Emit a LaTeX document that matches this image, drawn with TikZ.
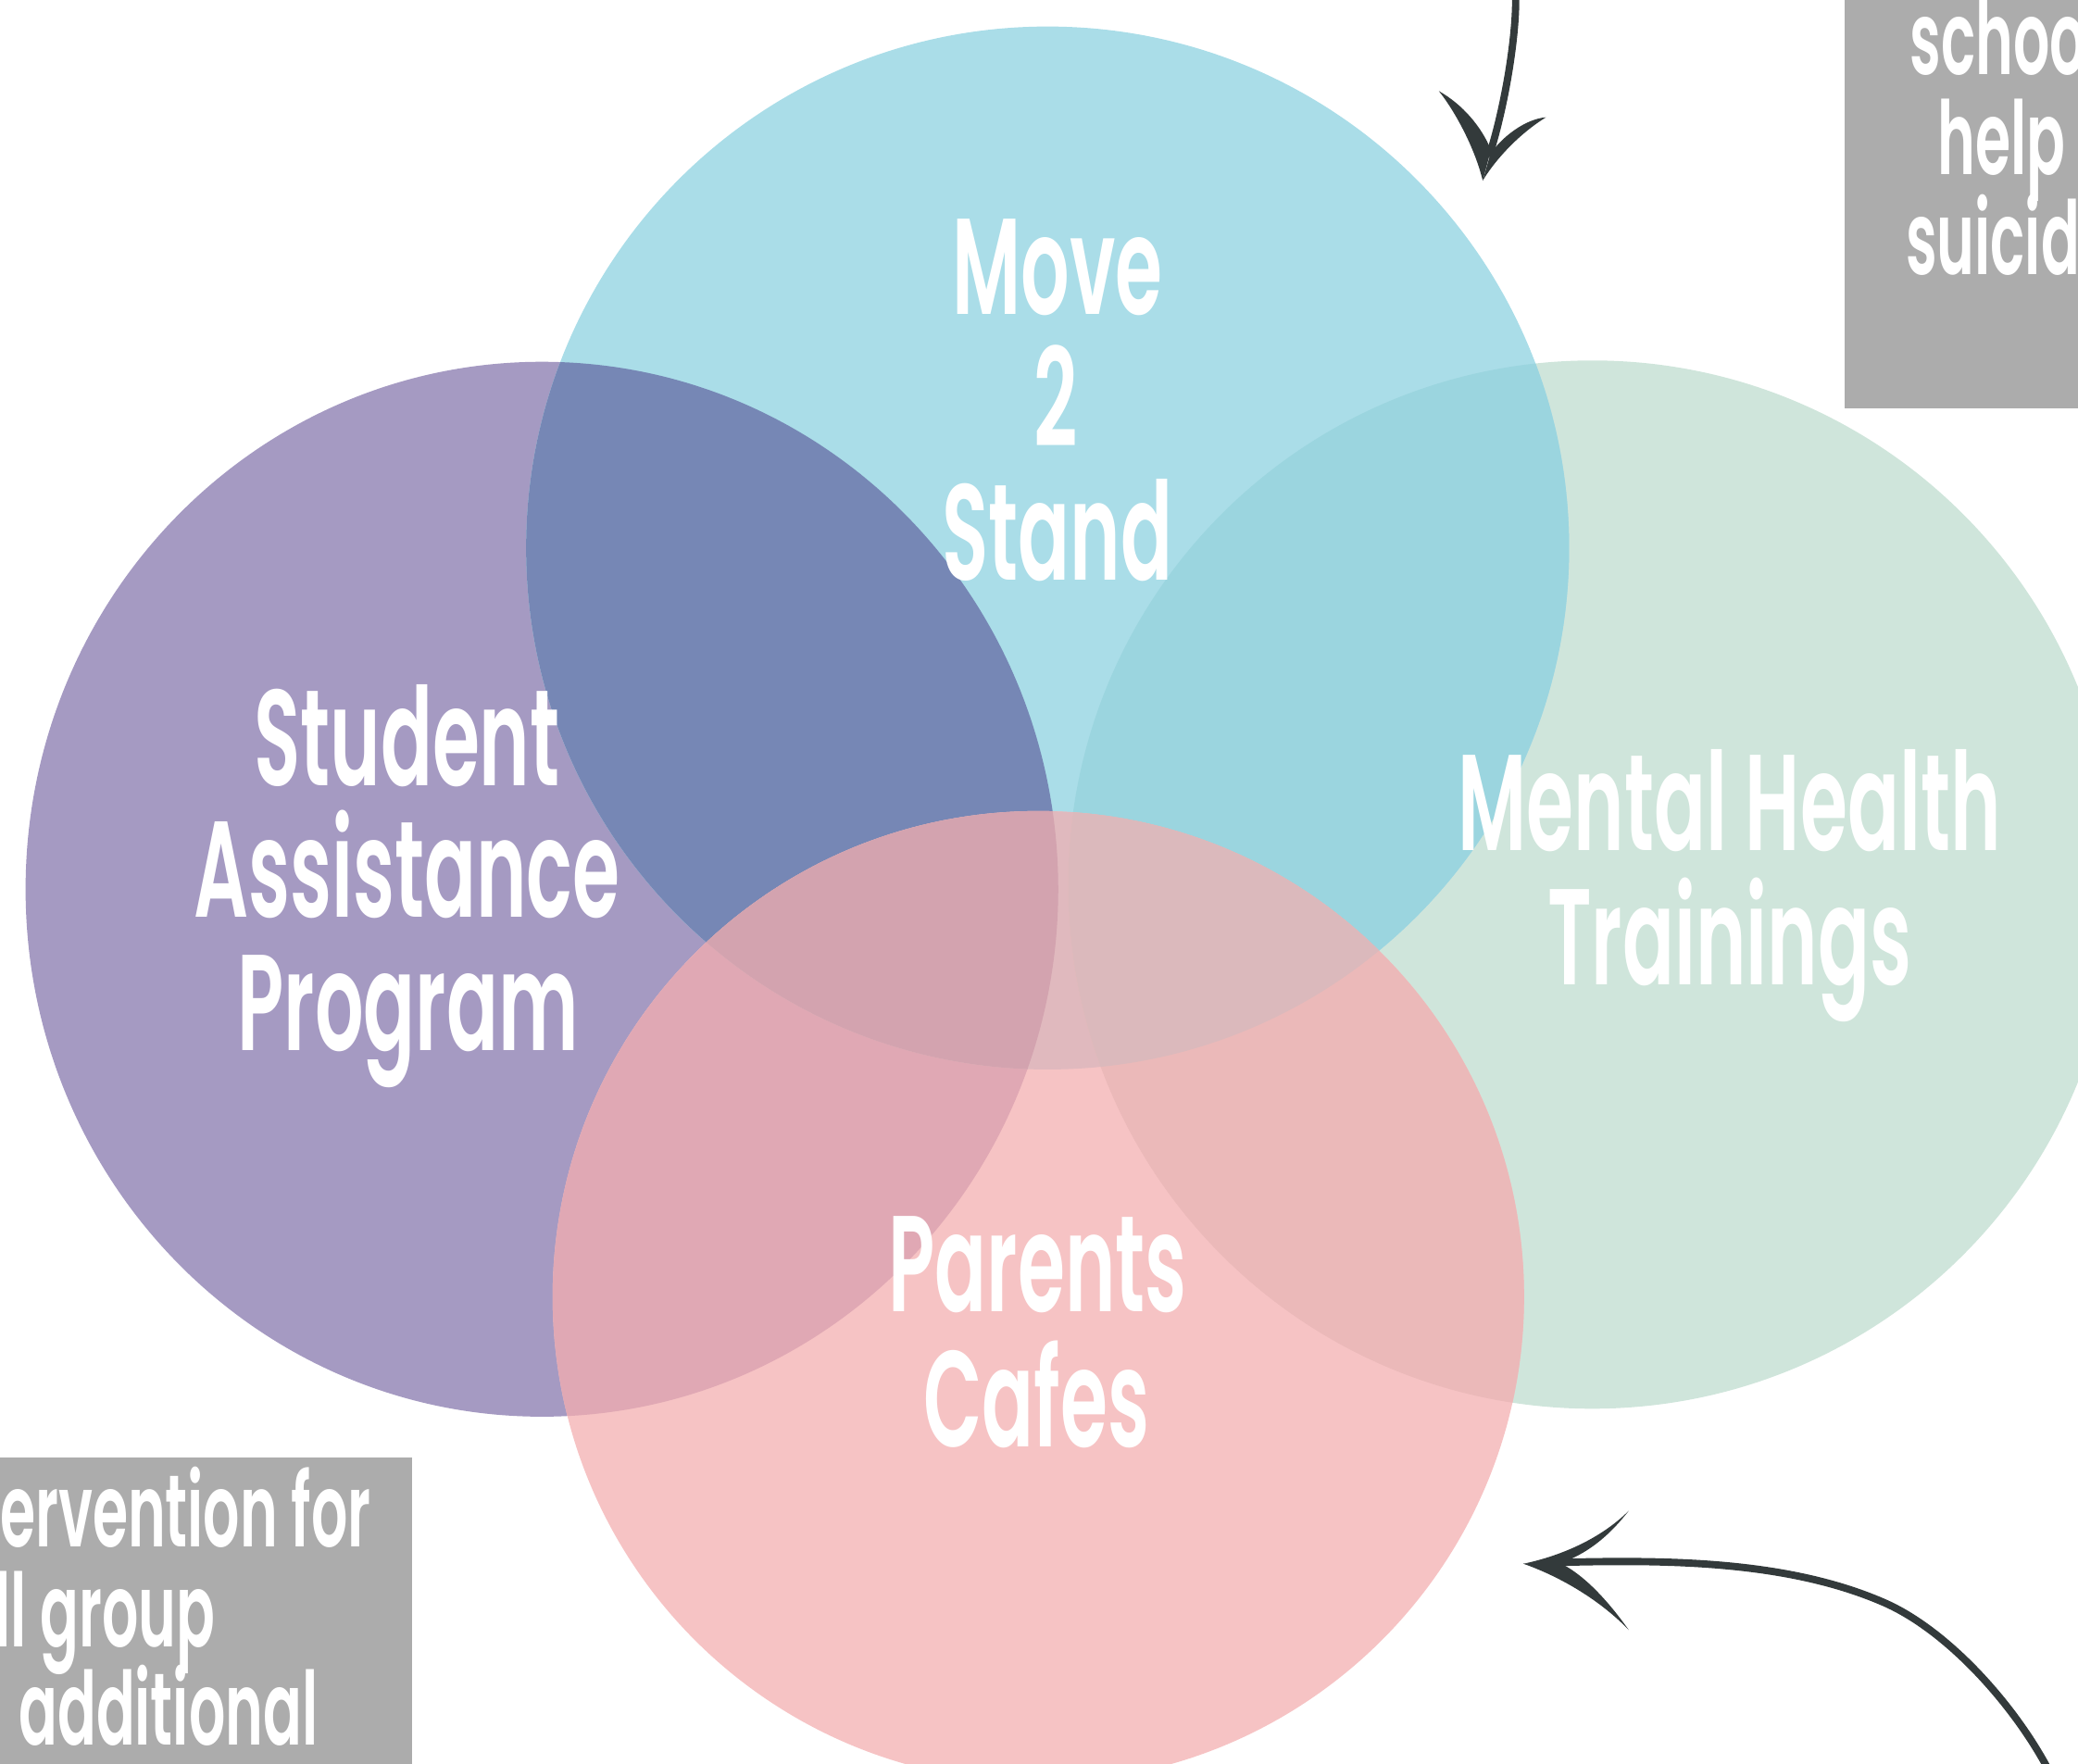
\documentclass[tikz,border=0pt]{standalone}
\usepackage{fontspec}
\newfontfamily\labfont{Poppins SemiBold}[FakeStretch=0.56]
\definecolor{cP}{HTML}{A59AC2}
\definecolor{cB}{HTML}{AADDE8}
\definecolor{cG}{HTML}{CFE5DB}
\definecolor{cK}{HTML}{F6C3C4}
\definecolor{cPB}{HTML}{7687B5}
\definecolor{cBG}{HTML}{9BD5DF}
\definecolor{cPK}{HTML}{E0A8B4}
\definecolor{cBK}{HTML}{E0B9BE}
\definecolor{cGK}{HTML}{EBB9B9}
\definecolor{cPBK}{HTML}{D3A3AF}
\definecolor{cBGK}{HTML}{DBB9BC}
\definecolor{boxgray}{HTML}{ACACAC}
\definecolor{ink}{HTML}{333A3B}
\newcommand\purpleshape{(P) ellipse [x radius=389.6, y radius=398]}
\newcommand\radB{393.5}
\newcommand\radG{395.5}
\newcommand\radK{366.5}
\tikzset{
  lbl/.style={text=white, inner sep=0pt, anchor=base, font=\labfont\fontsize{103}{103}\selectfont},
  boxlbl/.style={text=white, inner sep=0pt, font=\labfont\fontsize{77}{77}\selectfont},
  graybox/.style={fill=boxgray, draw=none},
  ink fill/.style={fill=ink, draw=none},
  shaft/.style={draw=ink, line width=5.5pt, line cap=round}
}
\begin{document}
\begin{tikzpicture}[x=1pt,y=-1pt]
\useasboundingbox (0,0) rectangle (1568,1331);
\clip (0,0) rectangle (1568,1331);
% centres
\coordinate (P) at (408.9,671);
\coordinate (B) at (790.5,413.5);
\coordinate (G) at (1201.5,667.5);
\coordinate (K) at (783.5,978.5);
% base shapes
\fill[cP] \purpleshape;
\fill[cG] (G) circle[radius=\radG];
\fill[cB] (B) circle[radius=\radB];
\fill[cK] (K) circle[radius=\radK];
% pair overlaps
\begin{scope}\clip \purpleshape; \fill[cPB] (B) circle[radius=\radB];\end{scope}
\begin{scope}\clip (G) circle[radius=\radG]; \fill[cBG] (B) circle[radius=\radB];\end{scope}
\begin{scope}\clip \purpleshape; \fill[cPK] (K) circle[radius=\radK];\end{scope}
\begin{scope}\clip (B) circle[radius=\radB]; \fill[cBK] (K) circle[radius=\radK];\end{scope}
\begin{scope}\clip (G) circle[radius=\radG]; \fill[cGK] (K) circle[radius=\radK];\end{scope}
% triple overlaps
\begin{scope}\clip \purpleshape; \clip (B) circle[radius=\radB]; \fill[cPBK] (K) circle[radius=\radK];\end{scope}
\begin{scope}\clip (G) circle[radius=\radG]; \clip (B) circle[radius=\radB]; \fill[cBGK] (K) circle[radius=\radK];\end{scope}
% labels
\node[lbl] (move) at (798,237) {Move};
\node[lbl] (two) at (797,337) {2};
\node[lbl] (stand) at (798,438) {Stand};
\node[lbl] (student) at (307,593) {Student};
\node[lbl] (assist) at (307,692) {Assistance};
\node[lbl] (program) at (308,793) {Program};
\node[lbl] (mental) at (1305,642) {Mental Health};
\node[lbl] (train) at (1305,743) {Trainings};
\node[lbl] (parents) at (783,990) {Parents};
\node[lbl] (cafes) at (782,1092) {Cafes};
% grey boxes
\fill[graybox] (1392,-5) rectangle (1575,308);
\begin{scope}
\clip (1392,-5) rectangle (1568,308);
\node[boxlbl, anchor=base west] (tr1) at (1441,56) {schoo};
\node[boxlbl, anchor=base west] (tr2) at (1462,131.6) {help};
\node[boxlbl, anchor=base west] (tr3) at (1438,207.3) {suicid};
\end{scope}
\fill[graybox] (-5,1100) rectangle (311,1340);
\begin{scope}
\clip (0,1100) rectangle (311,1331);
\node[boxlbl, anchor=base east] (bl1) at (280,1167) {ervention for};
\node[boxlbl, anchor=base west] (bl2) at (-4,1243) {ll group};
\node[boxlbl, anchor=base west] (bl3) at (14,1317) {additional};
\end{scope}
% top arrow
\coordinate (tA0) at (1143.5,-6);
\coordinate (tA3) at (1124.2,116);
\coordinate (tT) at (1118.8,136.3);
\coordinate (tL) at (1085.7,68.7);
\coordinate (tR) at (1166.5,88.5);
\draw[shaft] (tA0) .. controls (1145,20) and (1137,75) .. (tA3);
\fill[ink fill] (tL) .. controls (1098,84) and (1113,112) .. (tT) -- (1125,113) .. controls (1118,96) and (1104,79) .. (tL) -- cycle;
\fill[ink fill] (tT) .. controls (1130,118) and (1148,100) .. (tR) .. controls (1150,90) and (1133,104) .. (1124.6,116) -- cycle;
% bottom arrow
\coordinate (bT) at (1149.5,1180);
\coordinate (bU) at (1229,1140);
\coordinate (bL) at (1229,1230);
\coordinate (bS0) at (1176,1179);
\coordinate (bS3) at (1421,1209);
\coordinate (bS7) at (1548,1340);
\draw[shaft, line cap=butt] (bS0) .. controls (1256,1177) and (1347.6,1177.2) .. (bS3) .. controls (1471.5,1230.8) and (1523.4,1290.8) .. (bS7);
\fill[ink fill] (bT) .. controls (1178,1174) and (1208,1161) .. (bU) .. controls (1212,1162) and (1195,1173) .. (1180,1178.5) -- cycle;
\fill[ink fill] (bT) .. controls (1178,1190) and (1208,1208) .. (bL) .. controls (1212,1206) and (1195,1189) .. (1180,1181) -- cycle;
\fill[ink fill] (bT) -- (1180,1177) -- (1180,1182) -- cycle;
\end{tikzpicture}
\end{document}
